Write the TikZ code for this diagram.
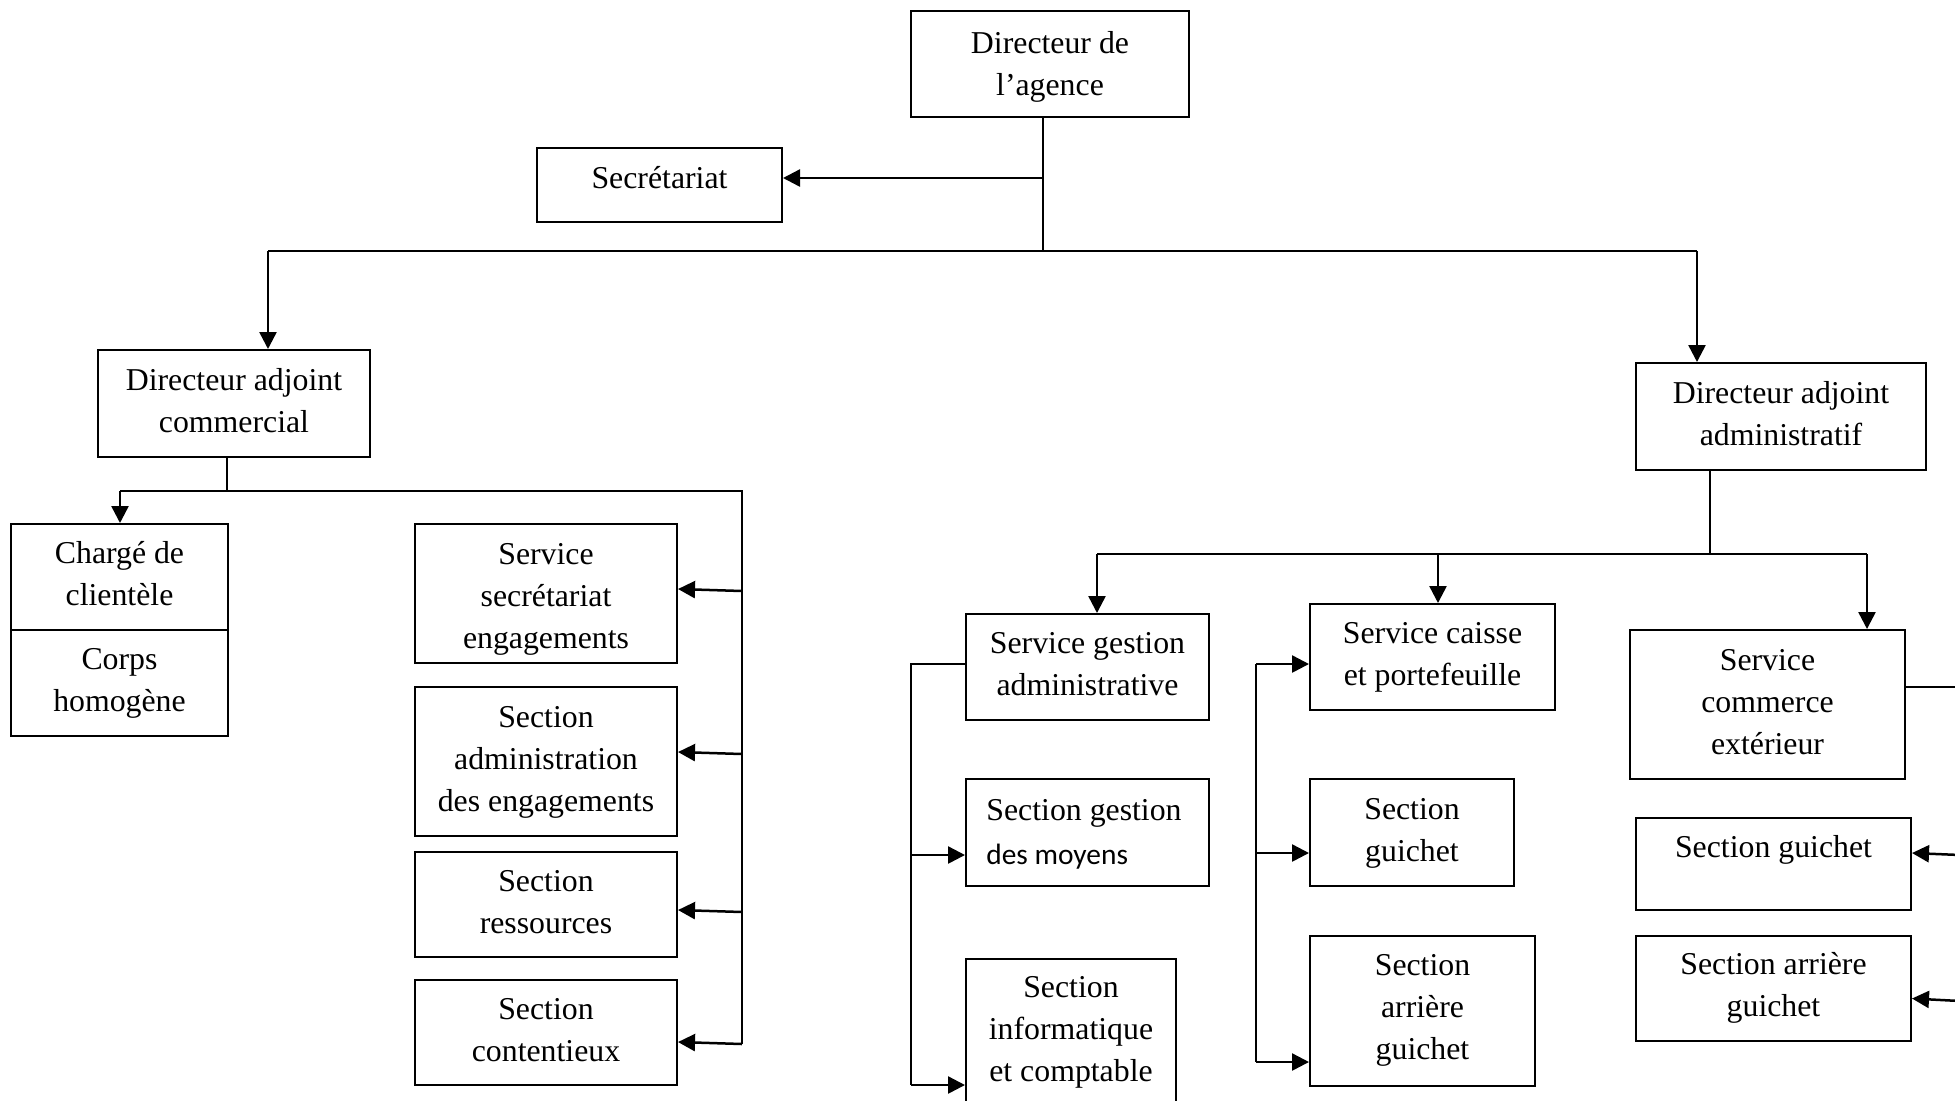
\documentclass[tikz,border=0pt]{standalone}
\usepackage{fontspec}
\setmainfont{Liberation Serif}
\newfontfamily\calibfont{Carlito}
\usetikzlibrary{arrows.meta,calc}

% invisible rule giving every first and last line the same height and depth;
% the depth (argument) sets how low the lines sit in their box
\newcommand\ostrut[1][6.6pt]{\rule[-#1]{0pt}{21pt}}

% box given by its two corners (left, top, right, bottom)
\newcommand\obox[7][6.6pt]{%
  \pgfmathsetmacro\obw{(#5-#3)*0.5}%
  \pgfmathsetmacro\obh{(#6-#4)*0.5}%
  \node[orgbox, minimum width=\obw pt, minimum height=\obh pt]
    (#2) at ({(#3+#5)/2},{(#4+#6)/2}) {\ostrut[#1]#7\ostrut[#1]};}

\begin{document}
\begin{tikzpicture}[x=0.5pt,y=-0.5pt,
  orgbox/.style={draw, line width=1pt, inner sep=0pt, align=center,
    font=\fontsize{15.9pt}{21pt}\selectfont},
  lbl/.style={inner sep=0pt, font=\fontsize{15.9pt}{21pt}\selectfont},
  plain/.style={line width=0.9pt},
  arr/.style={line width=1.25pt, -{Triangle[length=8.5pt,width=8.5pt]}}
]
\fill[white] (0,0) rectangle (1955,1100);
\useasboundingbox (0,0) rectangle (1955,1100);
\clip (0,0) rectangle (1955,1100);

% ---------- boxes ----------
\obox[5.4pt]{dag}{911}{11}{1189}{117}{Directeur de\\l’agence}
\obox{sec}{537}{148}{782}{222}{}
\node[lbl, anchor=base] (secT) at (659.5,188) {Secrétariat};

\obox{dac}{98}{350}{370}{457}{Directeur adjoint\\commercial}
\obox{daa}{1636}{363}{1926}{470}{Directeur adjoint\\administratif}

\obox{charge}{11}{524}{228}{630}{Chargé de\\clientèle}
\obox{corps}{11}{630}{228}{736}{Corps\\homogène}

\obox[4.2pt]{sse}{415}{524}{677}{663}{Service\\secrétariat\\engagements}
\obox{sade}{415}{687}{677}{836}{Section\\administration\\des engagements}
\obox{sr}{415}{852}{677}{957}{Section\\ressources}
\obox{sc}{415}{980}{677}{1085}{Section\\contentieux}

\obox{sga}{966}{614}{1209}{720}{Service gestion\\administrative}
\obox{sgm}{966}{779}{1209}{886}{}
\node[lbl, anchor=base west] (sgmA) at (986,820) {Section gestion};
\node[lbl, anchor=base west, font=\calibfont\fontsize{14.7pt}{20pt}\selectfont] (sgmB) at (986,864) {des moyens};
\obox{sic}{966}{959}{1176}{1110}{}
\node[lbl, align=center] (sicT) at (1071,1031.5) {\ostrut Section\\informatique\\et comptable\ostrut};

\obox{scp}{1310}{604}{1555}{710}{Service caisse\\et portefeuille}
\obox{sgc}{1310}{779}{1514}{886}{Section\\guichet}
\obox[7.3pt]{sag}{1310}{936}{1535}{1086}{Section\\arrière\\guichet}

\obox{sce}{1630}{630}{1905}{779}{Service\\commerce\\extérieur}
\obox{sgr}{1636}{818}{1911}{910}{}
\node[lbl, anchor=base] (sgrT) at (1773.5,857) {Section guichet};
\obox[7.2pt]{sar}{1636}{936}{1911}{1041}{Section arrière\\guichet}

% ---------- top level ----------
\coordinate (jA) at (1043,251);
\coordinate (tSec) at (1043,178);
\coordinate (kDac) at (268,251);
\coordinate (kDaa) at (1697,251);
\draw[plain] (dag.south -| jA) -- (jA);
\draw[arr] (tSec) -- (sec.east |- tSec);
\draw[plain] (kDac) -- (kDaa);
\draw[arr] (kDac) -- (dac.north -| kDac);
\draw[arr] (kDaa) -- (daa.north -| kDaa);

% ---------- commercial branch ----------
\coordinate (jB) at (227,491);
\coordinate (kCh) at (120,491);
\coordinate (kRt) at (742,491);
\coordinate (kRb) at (742,1044);
\draw[plain] (dac.south -| jB) -- (jB);
\draw[plain] (kCh) -- (kRt) -- (kRb);
\draw[arr] (kCh) -- (charge.north -| kCh);
\coordinate (pSse) at (742,591);
\coordinate (pSade) at (742,754);
\coordinate (pSr) at (742,912);
\coordinate (pSc) at (742,1044);
\draw[arr] (pSse) -- ($(sse.east)+(0,-4.5)$);
\draw[arr] (pSade) -- ($(sade.east)+(0,-9.5)$);
\draw[arr] (pSr) -- ($(sr.east)+(0,5.5)$);
\draw[arr] (pSc) -- ($(sc.east)+(0,9.5)$);

% ---------- administrative branch ----------
\coordinate (jC) at (1710,554);
\coordinate (kSga) at (1097,554);
\coordinate (kScp) at (1438,554);
\coordinate (kSce) at (1867,554);
\draw[plain] (daa.south -| jC) -- (jC);
\draw[plain] (kSga) -- (kSce);
\draw[arr] (kSga) -- (sga.north -| kSga);
\draw[arr] (kScp) -- (scp.north -| kScp);
\draw[arr] (kSce) -- (sce.north -| kSce);

% gestion administrative group
\coordinate (bLm) at (911,855);
\coordinate (bLb) at (911,1085);
\draw[plain] ($(sga.west)+(0,-3)$) -| (bLb);
\draw[arr] (bLm) -- (sgm.west |- bLm);
\draw[arr] (bLb) -- (sic.west |- bLb);

% caisse group
\coordinate (mT) at (1256,664);
\coordinate (mM) at (1256,853);
\coordinate (mB) at (1256,1062);
\draw[plain] (mT) -- (mB);
\draw[arr] (mT) -- (scp.west |- mT);
\draw[arr] (mM) -- (sgc.west |- mM);
\draw[arr] (mB) -- (sag.west |- mB);

% commerce exterieur group
\coordinate (rE) at (1960,687);
\coordinate (rG) at (1960,855);
\coordinate (rA) at (1960,1001);
\draw[plain] (sce.east |- rE) -- (rE);
\draw[arr] (rG) -- ($(sgr.east)+(0,-11)$);
\draw[arr] (rA) -- ($(sar.east)+(0,10)$);
\end{tikzpicture}
\end{document}
